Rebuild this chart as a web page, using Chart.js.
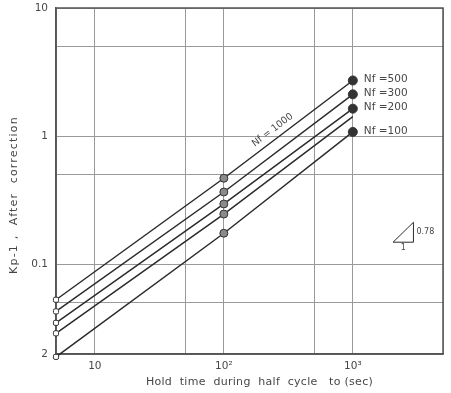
<!DOCTYPE html>
<html lang="en">
<head>
  <meta charset="UTF-8" />
  <title>Kp-1 vs hold time</title>
  <script src="https://cdn.jsdelivr.net/npm/chart.js"></script>
  <style>
    body { margin: 0; background: #fff; }
    canvas { display: block; }
  </style>
</head>
<body>
  <canvas id="kpChart" width="451" height="393"></canvas>

  <script>
    // hold times where Kp-1 was measured (sec)
    const holdTimes = [5, 100, 1000];

    // Kp-1 after correction, one row per fitted line (top to bottom)
    const nf1000 = [0.053, 0.47, 2.72];
    const nf500  = [0.043, 0.367, 2.12];
    const nf300  = [0.035, 0.296, 1.64];
    const nf200  = [0.029, 0.247, 1.42];
    const nf100  = [0.019, 0.175, 1.08];
    const seriesList = [nf1000, nf500, nf300, nf200, nf100];

    // text written next to the right-hand end of each line
    const endLabels = ['Nf =500', 'Nf =300', 'Nf =200', '', 'Nf =100'];
    const lineLabel = 'Nf = 1000';

    // which points carry a marker
    const hasMarker = [
      [true, true, true],
      [true, true, true],
      [true, true, true],
      [true, true, false],
      [true, true, true]
    ];

    const xTickValues = [5, 10, 50, 100, 500, 1000, 5000];
    const xTickLabels = ['', '10', '', '10²', '', '10³', ''];
    const yTickValues = [0.02, 0.05, 0.1, 0.5, 1, 5, 10];
    const yTickLabels = ['2', '', '0.1', '', '1', '', '10'];

    const xTitle = 'Hold  time  during  half  cycle   to (sec)';
    const yTitle = 'Kp-1 ,  After  correction';
    const slopeText = '0.78';

    const INK = '#2b2b2b';
    const TEXT = '#474747';
    const GRID = '#9a9a9a';
    const FRAME = '#555';
    const FONT = "'DejaVu Sans', sans-serif";

    const markerFill = ['#ffffff', '#8a8a8a', '#333333'];
    const markerSize = [3, 4, 4.5];
    const markerShape = ['rectRounded', 'circle', 'circle'];

    const datasets = seriesList.map((vals, s) => ({
      data: holdTimes.map((x, i) => ({ x: x, y: vals[i] })),
      borderColor: INK,
      borderWidth: 1.5,
      pointStyle: markerShape,
      pointRadius: holdTimes.map((x, i) => hasMarker[s][i] ? markerSize[i] : 0),
      pointBackgroundColor: markerFill,
      pointBorderColor: '#333',
      pointBorderWidth: 1,
      clip: false,
      tension: 0
    }));

    // frame round the plot plus both axis titles, drawn under the lines
    const frame = {
      id: 'frame',
      beforeDatasetsDraw(chart) {
        const { ctx, chartArea: a } = chart;
        ctx.save();
        ctx.strokeStyle = FRAME;
        ctx.lineWidth = 1.5;
        ctx.strokeRect(a.left, a.top, a.right - a.left, a.bottom - a.top);

        ctx.fillStyle = TEXT;
        ctx.textAlign = 'center';
        ctx.textBaseline = 'middle';

        ctx.font = '11px ' + FONT;
        ctx.letterSpacing = '0.3px';
        ctx.fillText(xTitle, (a.left + a.right) / 2 + 10, a.bottom + 28);

        ctx.letterSpacing = '1.2px';
        ctx.translate(14, (a.top + a.bottom) / 2 + 14);
        ctx.rotate(-Math.PI / 2);
        ctx.fillText(yTitle, 0, 0);
        ctx.restore();
      }
    };

    // extra lettering drawn on top of the plot: end labels, the Nf=1000 tag
    // along the top line and the little slope triangle
    const notes = {
      id: 'notes',
      afterDatasetsDraw(chart) {
        const { ctx, scales: { x, y } } = chart;
        ctx.save();
        ctx.fillStyle = TEXT;
        ctx.font = '10.5px ' + FONT;
        ctx.textBaseline = 'middle';
        ctx.textAlign = 'left';
        seriesList.forEach((vals, s) => {
          if (!endLabels[s]) return;
          ctx.fillText(endLabels[s], x.getPixelForValue(1000) + 11, y.getPixelForValue(vals[2]) - 1);
        });

        // tag along the upper line, between 10^2 and 10^3
        const x1 = x.getPixelForValue(holdTimes[1]), y1 = y.getPixelForValue(nf1000[1]);
        const x2 = x.getPixelForValue(holdTimes[2]), y2 = y.getPixelForValue(nf1000[2]);
        const ang = Math.atan2(y2 - y1, x2 - x1);
        const t = 0.42;
        const px = x1 + (x2 - x1) * t + Math.sin(ang) * 9;
        const py = y1 + (y2 - y1) * t - Math.cos(ang) * 9;
        ctx.translate(px, py);
        ctx.rotate(ang);
        ctx.textAlign = 'center';
        ctx.font = '9.5px ' + FONT;
        ctx.fillText(lineLabel, 0, 0);
        ctx.setTransform(1, 0, 0, 1, 0, 0);

        // slope triangle
        const bx = x.getPixelForValue(2050), ex = x.getPixelForValue(2950);
        const by = y.getPixelForValue(0.149), ty = y.getPixelForValue(0.213);
        ctx.strokeStyle = INK;
        ctx.lineWidth = 1;
        ctx.beginPath();
        ctx.moveTo(bx, by);
        ctx.lineTo(ex, by);
        ctx.lineTo(ex, ty);
        ctx.closePath();
        ctx.stroke();
        ctx.font = '8px ' + FONT;
        ctx.textAlign = 'left';
        ctx.fillText(slopeText, ex + 3, (by + ty) / 2);
        ctx.textAlign = 'center';
        ctx.fillText('1', (bx + ex) / 2, by + 6);
        ctx.restore();
      }
    };

    new Chart(document.getElementById('kpChart'), {
      type: 'line',
      data: { datasets: datasets },
      options: {
        responsive: false,
        animation: false,
        layout: { padding: { top: 8, right: 8, left: 0, bottom: 0 } },
        plugins: {
          legend: { display: false },
          tooltip: { enabled: false }
        },
        scales: {
          x: {
            type: 'logarithmic',
            min: 5,
            max: 5000,
            afterBuildTicks: (scale) => { scale.ticks = xTickValues.map(v => ({ value: v })); },
            afterFit: (scale) => {
              scale.height = 39;
              scale.paddingLeft = 0;
              scale.paddingRight = 0;
            },
            grid: { color: GRID, lineWidth: 1, drawTicks: false },
            border: { color: FRAME, width: 1.5 },
            ticks: {
              autoSkip: false,
              maxRotation: 0,
              padding: 6,
              color: TEXT,
              font: { family: FONT, size: 10.5 },
              callback: (v) => xTickLabels[xTickValues.indexOf(v)] ?? ''
            }
          },
          y: {
            type: 'logarithmic',
            min: 0.02,
            max: 10,
            afterBuildTicks: (scale) => { scale.ticks = yTickValues.map(v => ({ value: v })); },
            afterFit: (scale) => {
              scale.width = 56;
              scale.paddingTop = 0;
              scale.paddingBottom = 0;
            },
            grid: { color: GRID, lineWidth: 1, drawTicks: false },
            border: { color: FRAME, width: 1.5 },
            ticks: {
              autoSkip: false,
              padding: 8,
              color: TEXT,
              font: { family: FONT, size: 10.5 },
              callback: (v) => yTickLabels[yTickValues.indexOf(v)] ?? ''
            }
          }
        }
      },
      plugins: [frame, notes]
    });
  </script>
</body>
</html>
